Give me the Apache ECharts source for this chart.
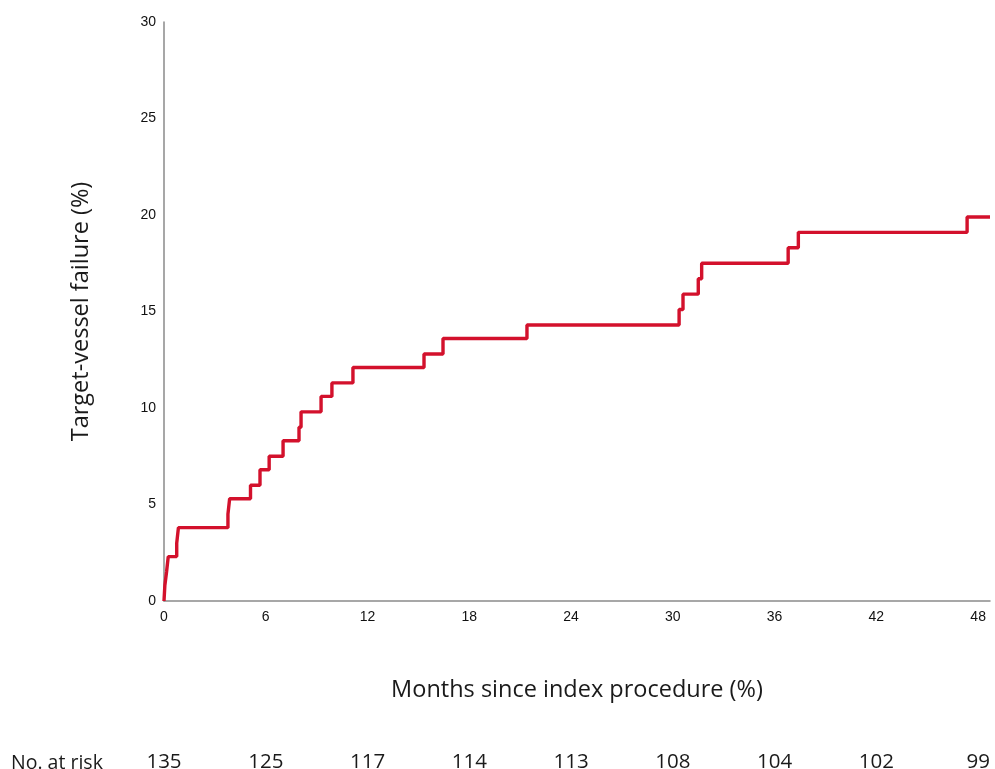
<!DOCTYPE html>
<html>
<head>
<meta charset="utf-8">
<script src="https://cdn.jsdelivr.net/npm/echarts@6/dist/echarts.min.js"></script>
<style>
  html, body { margin: 0; padding: 0; background: #fff; }
  #chart { width: 995px; height: 769px; }
</style>
</head>
<body>
<div id="chart"></div>
<script>
// event times (months) and cumulative failure (%) after each step
const months = [0, 0.05, 0.15, 0.25, 0.75, 0.85, 3.77, 3.87, 5.1, 5.66, 6.2, 7.02, 7.96, 8.08, 9.26, 9.9, 11.14, 15.33, 16.45, 21.4, 30.37, 30.6, 31.5, 31.7, 36.8, 37.4, 47.35, 48.7];
const failure = [0, 0.8, 1.5, 2.3, 3.0, 3.8, 4.5, 5.3, 6.0, 6.8, 7.5, 8.3, 9.0, 9.8, 10.6, 11.3, 12.1, 12.8, 13.6, 14.3, 15.1, 15.9, 16.7, 17.5, 18.3, 19.1, 19.9, 19.9];

const riskMonths = [0, 6, 12, 18, 24, 30, 36, 42, 48];
const atRisk = [135, 125, 117, 114, 113, 108, 104, 102, 99];

const titleFont = '"Open Sans", "Noto Sans", sans-serif';
const tickFont = '"Liberation Sans", Arial, sans-serif';

const chart = echarts.init(document.getElementById('chart'));

chart.setOption({
  animation: false,
  grid: { left: 164, right: 5, top: 22, bottom: 168, containLabel: false, outerBoundsMode: 'none' },
  graphic: [{
    type: 'text',
    left: 11,
    top: 753,
    style: { text: 'No. at risk', font: '19.5px ' + titleFont, fill: '#1a1a1a' }
  }],
  xAxis: [{
    type: 'value',
    min: 0,
    max: 48.7,
    interval: 6,
    name: 'Months since index procedure (%)',
    nameLocation: 'middle',
    nameGap: 77,
    nameTextStyle: { fontFamily: titleFont, fontSize: 23.5, color: '#1a1a1a' },
    axisLine: { show: true, lineStyle: { color: '#8a8a8a', width: 1.5 } },
    axisTick: { show: false },
    splitLine: { show: false },
    axisLabel: {
      fontFamily: tickFont, fontSize: 14, color: '#111', margin: 9,
      showMaxLabel: false,
      formatter: v => (v % 6 === 0 ? String(v) : '')
    }
  }, {
    type: 'value',
    position: 'bottom',
    offset: 147,
    min: 0,
    max: 48.7,
    interval: 6,
    axisLine: { show: false },
    axisTick: { show: false },
    splitLine: { show: false },
    axisLabel: {
      fontFamily: titleFont, fontSize: 20.5, color: '#1a1a1a', margin: 4,
      showMaxLabel: false,
      formatter: v => {
        const i = riskMonths.indexOf(v);
        return i >= 0 ? String(atRisk[i]) : '';
      }
    }
  }],
  yAxis: {
    type: 'value',
    min: 0,
    max: 30,
    interval: 5,
    name: 'Target-vessel failure (%)',
    nameLocation: 'middle',
    nameGap: 71,
    nameTextStyle: { fontFamily: titleFont, fontSize: 23.5, color: '#1a1a1a' },
    axisLine: { show: true, lineStyle: { color: '#8a8a8a', width: 1.5 } },
    axisTick: { show: false },
    splitLine: { show: false },
    axisLabel: { fontFamily: tickFont, fontSize: 14, color: '#111', margin: 8 }
  },
  series: [{
    type: 'line',
    step: 'end',
    xAxisIndex: 0,
    data: months.map((m, i) => [m, failure[i]]),
    showSymbol: false,
    lineStyle: { color: '#d3112c', width: 3.4 },
    clip: false
  }]
});
</script>
</body>
</html>
